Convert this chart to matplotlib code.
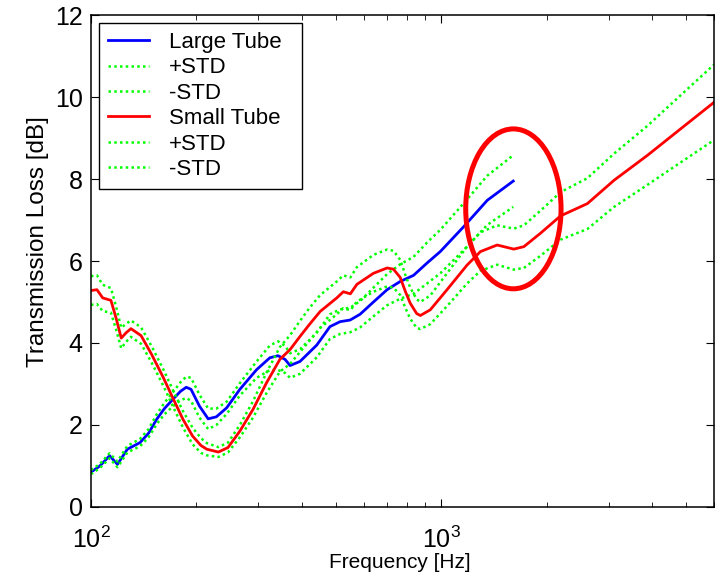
import numpy as np
import matplotlib
matplotlib.use("Agg")
import matplotlib.pyplot as plt
from matplotlib.patches import Ellipse
from matplotlib.ticker import NullFormatter

plt.rcParams["font.family"] = ["Liberation Sans", "DejaVu Sans"]
plt.rcParams["mathtext.fontset"] = "custom"
plt.rcParams["mathtext.rm"] = "Liberation Sans"

# Large tube: mean transmission loss and spread
large_freq = np.array([100, 106, 113, 119, 127, 138, 146, 154, 162, 171, 180, 187, 193, 204,
                       216, 228, 244, 266, 297, 324, 342, 358, 370, 395, 441, 481, 514, 549,
                       586, 640, 700, 763, 833, 910, 993, 1159, 1352, 1604])
large_tl = np.array([0.85, 1.0, 1.25, 1.04, 1.41, 1.57, 1.8, 2.14, 2.4, 2.62, 2.82, 2.92, 2.87, 2.46,
                     2.15, 2.2, 2.42, 2.87, 3.35, 3.64, 3.69, 3.6, 3.45, 3.55, 3.95, 4.4, 4.52, 4.56,
                     4.7, 5.0, 5.3, 5.5, 5.65, 5.95, 6.23, 6.84, 7.48, 7.95])
large_std = np.array([0.05, 0.05, 0.06, 0.07, 0.08, 0.09, 0.1, 0.12, 0.14, 0.17, 0.22, 0.26, 0.28, 0.28,
                      0.25, 0.2, 0.15, 0.15, 0.2, 0.3, 0.35, 0.33, 0.3, 0.3, 0.3, 0.3, 0.3, 0.3,
                      0.32, 0.35, 0.38, 0.42, 0.45, 0.5, 0.53, 0.57, 0.6, 0.63])

# Small tube
small_freq = np.array([100, 104, 108, 114, 118, 122, 126, 130, 139, 149, 161, 171, 183, 195,
                       206, 214, 231, 246, 266, 290, 317, 346, 370, 395, 420, 451, 503, 525,
                       550, 574, 640, 700, 730, 763, 790, 815, 850, 871, 930, 1038, 1184, 1293,
                       1443, 1610, 1720, 1920, 2189, 2611, 3112, 3878, 4830, 6000])
small_tl = np.array([5.28, 5.3, 5.1, 5.04, 4.6, 4.12, 4.25, 4.35, 4.18, 3.72, 3.15, 2.67, 2.14, 1.73,
                     1.5, 1.41, 1.34, 1.45, 1.85, 2.38, 3.03, 3.6, 3.84, 4.16, 4.45, 4.77, 5.1, 5.25,
                     5.2, 5.43, 5.7, 5.83, 5.8, 5.6, 5.25, 4.97, 4.72, 4.67, 4.81, 5.3, 5.9, 6.23,
                     6.39, 6.29, 6.35, 6.68, 7.1, 7.4, 7.97, 8.58, 9.23, 9.87])
small_std = np.array([0.35, 0.35, 0.32, 0.3, 0.28, 0.25, 0.22, 0.2, 0.2, 0.2, 0.2, 0.2, 0.2, 0.2,
                      0.18, 0.15, 0.12, 0.12, 0.15, 0.2, 0.25, 0.3, 0.35, 0.38, 0.4, 0.4, 0.4, 0.4,
                      0.4, 0.42, 0.45, 0.45, 0.45, 0.43, 0.4, 0.38, 0.35, 0.33, 0.35, 0.4, 0.45, 0.47,
                      0.48, 0.5, 0.52, 0.55, 0.58, 0.62, 0.65, 0.72, 0.82, 0.92])

fig = plt.figure(figsize=(7.17, 5.73), dpi=100)
ax = fig.add_axes([0.1269, 0.1152, 0.8689, 0.8586])

dots = (0, (1, 1.3))
ax.semilogx(large_freq, large_tl, color="b", lw=2, label="Large Tube")
ax.semilogx(large_freq, large_tl + large_std, color="#00ff00", lw=1.8, ls=dots, label="+STD")
ax.semilogx(large_freq, large_tl - large_std, color="#00ff00", lw=1.8, ls=dots, label="-STD")
ax.semilogx(small_freq, small_tl, color="r", lw=2, label="Small Tube")
ax.semilogx(small_freq, small_tl + small_std, color="#00ff00", lw=1.8, ls=dots, label="+STD")
ax.semilogx(small_freq, small_tl - small_std, color="#00ff00", lw=1.8, ls=dots, label="-STD")

ax.set_xlim(100, 6000)
ax.set_ylim(0, 12)
ax.set_yticks(np.arange(0, 13, 2))
ax.xaxis.set_minor_formatter(NullFormatter())
ax.tick_params(which="both", direction="in", top=True, right=True, labelsize=18)
ax.tick_params(which="major", length=6)
ax.tick_params(which="minor", length=3.5)
ax.tick_params(axis="x", pad=14)
ax.tick_params(axis="y", pad=6)
for s in ax.spines.values():
    s.set_linewidth(1.1)

ax.set_xlabel("Frequency [Hz]", fontsize=15)
ax.set_ylabel("Transmission Loss [dB]", fontsize=17.5)
ax.xaxis.set_label_coords(0.496, -0.093)
ax.yaxis.set_label_coords(-0.067, 0.54)

leg = ax.legend(loc="upper left", bbox_to_anchor=(0.0128, 0, 0.326, 0.9837), mode="expand",
                borderaxespad=0, fontsize=16, labelspacing=0.2, handlelength=1.86,
                handletextpad=0.9, borderpad=0.4, fancybox=False, framealpha=1)
leg.get_frame().set_edgecolor("k")
leg.get_frame().set_linewidth(1.0)

# highlight where the large tube data stops
ax.add_patch(Ellipse((0.678, 0.606), 0.153, 0.325, transform=ax.transAxes, fill=False,
                     ec="r", lw=3.6, zorder=5, clip_on=False))

fig.savefig("out.png", dpi=100)
